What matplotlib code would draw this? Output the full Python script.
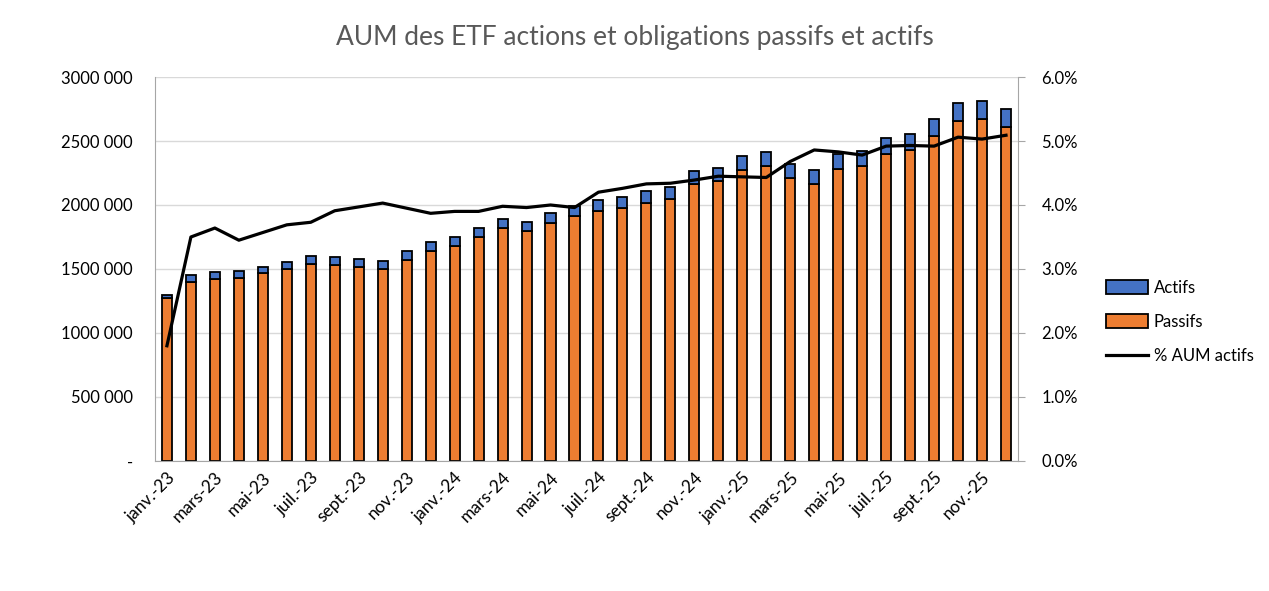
import numpy as np
import matplotlib
matplotlib.use("Agg")
import matplotlib.pyplot as plt
from matplotlib.ticker import FuncFormatter, MultipleLocator

plt.rcParams['font.family'] = ['Lato', 'DejaVu Sans']

# Months (janv.-23 .. déc.-25)
mois = ["janv.", "févr.", "mars", "avr.", "mai", "juin",
        "juil.", "août", "sept.", "oct.", "nov.", "déc."]
labels = [m + "-" + a for a in ["23", "24", "25"] for m in mois]

# AUM passifs (bottom, orange)
passifs = [1276000, 1401000, 1424000, 1430000, 1469000, 1500000,
           1539000, 1529000, 1518000, 1500000, 1570000, 1640000,
           1680000, 1750000, 1820000, 1797000, 1859000, 1914000,
           1953000, 1977000, 2016000, 2050000, 2164000, 2188000,
           2273000, 2305000, 2211000, 2164000, 2281000, 2305000,
           2398000, 2430000, 2539000, 2656000, 2672000, 2612000]

# AUM actifs (top, blue)
actifs = [21000, 52000, 55000, 57000, 47000, 57000,
          63000, 67000, 60000, 62000, 70000, 71000,
          70000, 70000, 71000, 70000, 78000, 78000,
          86000, 86000, 93000, 91000, 102000, 101000,
          110000, 109000, 109000, 109000, 117000, 117000,
          125000, 125000, 133000, 141000, 141000, 138000]

# % AUM actifs (right axis)
pct_actifs = [1.80, 3.50, 3.64, 3.45, 3.57, 3.69,
              3.73, 3.91, 3.97, 4.03, 3.95, 3.87,
              3.90, 3.90, 3.98, 3.96, 4.00, 3.96,
              4.20, 4.26, 4.33, 4.34, 4.39, 4.45,
              4.44, 4.43, 4.68, 4.86, 4.83, 4.78,
              4.92, 4.93, 4.92, 5.06, 5.03, 5.09]

orange = "#ED7D31"
bleu = "#4472C4"
gris = "#A6A6A6"

fig = plt.figure(figsize=(12.69, 5.91), dpi=100)
ax = fig.add_axes([0.1221, 0.2200, 0.6801, 0.6497])
x = np.arange(len(labels))

b1 = ax.bar(x, passifs, width=0.42, color=orange, edgecolor="black", linewidth=1.3, label="Passifs", zorder=2)
b2 = ax.bar(x, actifs, width=0.42, bottom=passifs, color=bleu, edgecolor="black", linewidth=1.3, label="Actifs", zorder=2)

ax.set_xlim(-0.5, len(labels) - 0.5)
ax.set_ylim(0, 3000000)
ax.yaxis.set_major_locator(MultipleLocator(500000))

def fmt_aum(v, pos):
    v = int(round(v))
    if v == 0:
        return "-"
    return "%d %03d" % (v // 1000, v % 1000)

ax.yaxis.set_major_formatter(FuncFormatter(fmt_aum))
ax.grid(axis="y", color="#D9D9D9", linewidth=1, zorder=0)
ax.set_axisbelow(True)

ax.set_xticks(x[::2])
ax.set_xticklabels(labels[::2], rotation=45, ha="right", rotation_mode="anchor")
ax.tick_params(axis="x", length=0, labelsize=12.5, pad=6, colors="#000000")
ax.tick_params(axis="y", length=0, labelsize=12, pad=16)

for s in ["top", "right"]:
    ax.spines[s].set_visible(False)
for s in ["left", "bottom"]:
    ax.spines[s].set_color(gris)

ax2 = ax.twinx()
ln, = ax2.plot(x, pct_actifs, color="black", linewidth=2.3, label="% AUM actifs", zorder=3)
ax2.set_ylim(0, 6)
ax2.yaxis.set_major_locator(MultipleLocator(1))
ax2.yaxis.set_major_formatter(FuncFormatter(lambda v, p: "%.1f%%" % v))
ax2.tick_params(axis="y", length=5, color=gris, labelsize=12, pad=12)
for s in ["top", "left", "bottom"]:
    ax2.spines[s].set_visible(False)
ax2.spines["right"].set_color(gris)

fig.legend([b2, b1, ln], ["Actifs", "Passifs", "% AUM actifs"],
           loc="center left", bbox_to_anchor=(0.860, 0.455), frameon=False,
           fontsize=12, labelspacing=1.1, handlelength=2.5, handleheight=0.9,
           handletextpad=0.35)

fig.suptitle("AUM des ETF actions et obligations passifs et actifs",
             x=0.5, y=0.958, fontsize=19, color="#595959")

plt.savefig("out.png", dpi=100)
plt.close()
